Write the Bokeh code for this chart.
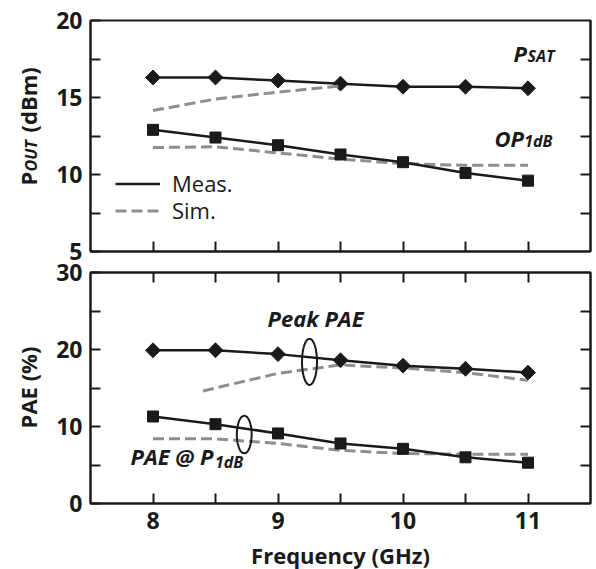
import math
from bokeh.plotting import figure
from bokeh.layouts import column, row
from bokeh.models import (Range1d, LinearAxis, FixedTicker, Label, Legend,
                          LegendItem, CustomLabelingPolicy)
from bokeh.embed import file_html
from bokeh.resources import INLINE

# ---------------- data ----------------
freq = [8, 8.5, 9, 9.5, 10, 10.5, 11]

psat_meas = [16.3, 16.3, 16.1, 15.9, 15.7, 15.7, 15.6]
psat_sim_freq = [8, 8.5, 9, 9.5]
psat_sim = [14.15, 14.9, 15.35, 15.75]

op1db_meas = [12.9, 12.4, 11.9, 11.3, 10.8, 10.1, 9.6]
op1db_sim = [11.75, 11.8, 11.4, 11.0, 10.7, 10.6, 10.6]

peak_pae_meas = [19.9, 19.9, 19.4, 18.6, 17.9, 17.5, 17.0]
peak_pae_sim_freq = [8.4, 8.5, 9, 9.5, 10, 10.5, 11]
peak_pae_sim = [14.6, 15.0, 16.9, 18.0, 17.6, 17.0, 16.0]

pae_p1db_meas = [11.3, 10.3, 9.1, 7.8, 7.1, 6.0, 5.3]
pae_p1db_sim = [8.4, 8.4, 7.8, 6.9, 6.5, 6.4, 6.4]

x_ticks = [8, 8.5, 9, 9.5, 10, 10.5, 11]
x_label_ticks = [8, 9, 10, 11]
x_minor_ticks = [8.5, 9.5, 10.5]
pout_ticks = [5, 10, 15, 20]
pout_minor = [7.5, 12.5, 17.5]
pout_right_ticks = [7.5, 10, 12.5, 15, 17.5]
pae_ticks = [0, 10, 20, 30]
pae_minor = [5, 15, 25]
pae_right_ticks = [5, 10, 15, 20, 25]

# ---------------- style ----------------
FONT = "Open Sans"
INK = "#1a1a1a"
GRAY = "#8e8e8e"
DASH = "11 5"

STRIP_W = 50
TOP_H, BOT_H = 262, 307

x_range = Range1d(7.5, 11.5)


def base_fig(y0, y1, top, bottom):
    p = figure(x_range=x_range, y_range=Range1d(y0, y1),
               frame_width=500, frame_height=231,
               min_border_left=40, min_border_right=6,
               min_border_top=top, min_border_bottom=bottom,
               output_backend="svg", toolbar_location=None)
    p.grid.visible = False
    p.outline_line_color = INK
    p.outline_line_width = 2
    p.background_fill_color = "white"
    p.border_fill_color = "white"
    return p


def strip_fig(h):
    s = figure(width=STRIP_W, height=h, x_range=Range1d(0, STRIP_W),
               y_range=Range1d(0, h), x_axis_type=None, y_axis_type=None,
               min_border=0, output_backend="svg", toolbar_location=None)
    s.grid.visible = False
    s.outline_line_color = None
    s.background_fill_color = "white"
    s.border_fill_color = "white"
    return s


def style_axis(ax, show_labels=True):
    ax.axis_line_color = INK
    ax.axis_line_width = 2
    ax.major_tick_line_color = INK
    ax.major_tick_line_width = 2
    ax.minor_tick_line_color = INK
    ax.minor_tick_line_width = 2
    ax.major_tick_in = 10
    ax.major_tick_out = 0
    ax.minor_tick_in = 10
    ax.minor_tick_out = 0
    ax.major_label_text_font = FONT
    ax.major_label_text_font_size = "23px"
    ax.major_label_text_font_style = "bold"
    ax.major_label_text_color = INK
    if not show_labels:
        ax.major_label_policy = CustomLabelingPolicy(
            code="for (let i = 0; i < indices.size; i++) { indices.unset(i) }")
        ax.major_label_text_font_size = "0px"
        ax.major_label_standoff = 0


def add_label(p, x, y, text, size, style="bold italic", angle=0.0,
              align="left"):
    # baseline placed at (x, y); box bottom sits one descent below it
    d = round(0.24 * size)
    p.add_layout(Label(x=x, y=y, text=text,
                       text_font=FONT, text_font_size=f"{size}px",
                       text_font_style=style, text_color=INK, angle=angle,
                       text_align=align, text_baseline="bottom",
                       y_offset=-d if angle == 0 else 0,
                       x_offset=d if angle != 0 else 0))


def add_legend(p, label, renderer, loc):
    p.add_layout(Legend(items=[LegendItem(label=label, renderers=[renderer])],
                        location=loc, border_line_color=None,
                        background_fill_alpha=0, padding=0, margin=0,
                        spacing=0, glyph_width=45, glyph_height=27,
                        label_height=27, label_standoff=12,
                        label_text_font=FONT, label_text_font_size="22px",
                        label_text_color=INK))


# ---------------- top panel ----------------
p1 = base_fig(5, 20, 20, 11)
p1.xaxis.ticker = FixedTicker(ticks=x_ticks)
style_axis(p1.xaxis[0], show_labels=False)
p1.yaxis.ticker = FixedTicker(ticks=pout_ticks, minor_ticks=pout_minor)
style_axis(p1.yaxis[0])
p1.yaxis.major_label_standoff = 8
r1 = LinearAxis(ticker=FixedTicker(ticks=pout_right_ticks))
style_axis(r1, show_labels=False)
p1.add_layout(r1, "right")

meas_line = p1.line(freq, psat_meas, line_color=INK, line_width=2.5)
p1.scatter(freq, psat_meas, marker="square", angle=math.pi / 4, size=10.5,
           fill_color=INK, line_color=INK)
sim_line = p1.line(psat_sim_freq, psat_sim, line_color=GRAY, line_width=3,
                   line_dash=DASH)
p1.line(freq, op1db_sim, line_color=GRAY, line_width=3, line_dash=DASH)
p1.line(freq, op1db_meas, line_color=INK, line_width=2.5)
p1.scatter(freq, op1db_meas, marker="square", size=11,
           fill_color=INK, line_color=INK)

add_legend(p1, "Meas.", meas_line, (25, 53))
add_legend(p1, "Sim.", sim_line, (25, 26))

add_label(p1, 10.884, 17.21, "P", 22)
add_label(p1, 10.996, 17.21, "SAT", 16)
add_label(p1, 10.732, 11.75, "OP", 22)
add_label(p1, 10.97, 11.75, "1dB", 16)

# y axis title strip (top): P_OUT (dBm)
s1 = strip_fig(TOP_H)
add_label(s1, 37, 77, "P", 22, style="bold", angle=math.pi / 2)
add_label(s1, 37, 91, "OUT", 16, style="bold italic", angle=math.pi / 2)
add_label(s1, 37, 130, "(dBm)", 22, style="bold", angle=math.pi / 2)

# ---------------- bottom panel ----------------
p2 = base_fig(0, 30, 10, 66)
p2.xaxis.ticker = FixedTicker(ticks=x_label_ticks, minor_ticks=x_minor_ticks)
style_axis(p2.xaxis[0])
p2.xaxis.major_label_standoff = 8
p2.xaxis.axis_label = "Frequency (GHz)"
p2.xaxis.axis_label_text_font = FONT
p2.xaxis.axis_label_text_font_size = "22px"
p2.xaxis.axis_label_text_font_style = "bold"
p2.xaxis.axis_label_text_color = INK
p2.xaxis.axis_label_standoff = 8
p2.yaxis.ticker = FixedTicker(ticks=pae_ticks, minor_ticks=pae_minor)
style_axis(p2.yaxis[0])
p2.yaxis.major_label_standoff = 8
t2 = LinearAxis(ticker=FixedTicker(ticks=x_ticks))
style_axis(t2, show_labels=False)
p2.add_layout(t2, "above")
r2 = LinearAxis(ticker=FixedTicker(ticks=pae_right_ticks))
style_axis(r2, show_labels=False)
p2.add_layout(r2, "right")

p2.line(peak_pae_sim_freq, peak_pae_sim, line_color=GRAY, line_width=3,
        line_dash=DASH)
p2.line(freq, peak_pae_meas, line_color=INK, line_width=2.5)
p2.scatter(freq, peak_pae_meas, marker="square", angle=math.pi / 4, size=10.5,
           fill_color=INK, line_color=INK)
p2.line(freq, pae_p1db_sim, line_color=GRAY, line_width=3, line_dash=DASH)
p2.line(freq, pae_p1db_meas, line_color=INK, line_width=2.5)
p2.scatter(freq, pae_p1db_meas, marker="square", size=11,
           fill_color=INK, line_color=INK)

p2.ellipse(x=[9.252], y=[18.4], width=0.12, height=6.0,
           fill_color=None, line_color=INK, line_width=2)
p2.ellipse(x=[8.73], y=[8.96], width=0.12, height=4.9,
           fill_color=None, line_color=INK, line_width=2)

add_label(p2, 8.916, 22.73, "Peak PAE", 22)
add_label(p2, 7.82, 4.81, "PAE @ P", 22)
add_label(p2, 8.495, 4.42, "1dB", 16)

# y axis title strip (bottom): PAE (%)
s2 = strip_fig(BOT_H)
add_label(s2, 37, 182, "PAE (%)", 22, style="bold", angle=math.pi / 2,
          align="center")

layout = row(column(s1, s2), column(p1, p2))
open("out.html", "w").write(file_html(layout, INLINE))
